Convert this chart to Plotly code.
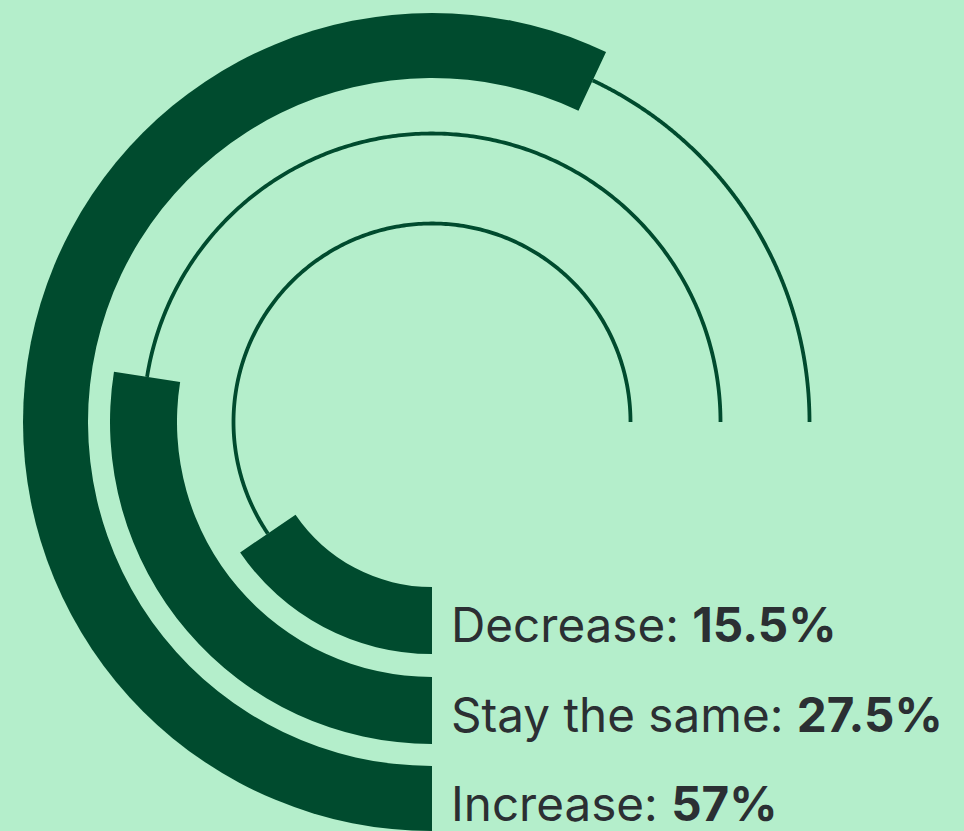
import numpy as np
import plotly.graph_objects as go

# Survey answers, innermost ring first
categories = ["Decrease", "Stay the same", "Increase"]
values = [15.5, 27.5, 57.0]          # percent
value_labels = ["15.5%", "27.5%", "57%"]

GREEN = "#004b2e"
BG = "#b4eecb"
TEXT = "#2b2f33"

W, H = 964, 831
CX, CY = 432, 422          # centre of the rings in pixels (from top-left)
R_MAX = 409                # radial axis range -> 1 unit == 1 px
ring_centres = [198.5, 288.5, 377.5]
BAR_THICK = 67
TRACK_END = 270            # tracks run three quarters of the way round
DEG_PER_PCT = 3.6

fig = go.Figure()

# thin tracks, continuing from the end of each bar up to 3 o'clock
for v, rc in zip(values, ring_centres):
    start = v * DEG_PER_PCT
    th = np.linspace(start, TRACK_END, 300)
    fig.add_trace(go.Scatterpolar(
        r=np.full_like(th, rc), theta=th, mode="lines",
        line=dict(color=GREEN, width=3.8), hoverinfo="skip", showlegend=False,
    ))

# thick value bars starting at 6 o'clock and running clockwise
for cat, v, rc in zip(categories, values, ring_centres):
    span = v * DEG_PER_PCT
    fig.add_trace(go.Barpolar(
        r=[BAR_THICK], base=[rc - BAR_THICK / 2], theta=[span / 2], width=[span],
        marker=dict(color=GREEN, line=dict(width=0)), name=cat, showlegend=False,
    ))

# labels next to the bar starts
for cat, lab, rc in zip(categories, value_labels, ring_centres):
    y_px = CY + rc + 4
    fig.add_annotation(
        x=449 / W, y=1 - y_px / H, xref="paper", yref="paper",
        xanchor="left", yanchor="middle", showarrow=False,
        text=f"{cat}: <b>{lab}</b>",
        font=dict(family="Inter", size=47.6, color=TEXT),
    )

fig.update_layout(
    width=W, height=H,
    margin=dict(l=0, r=0, t=0, b=0),
    paper_bgcolor=BG, plot_bgcolor=BG,
    barmode="overlay",
    polar=dict(
        domain=dict(x=[(CX - R_MAX) / W, (CX + R_MAX) / W],
                    y=[(H - CY - R_MAX) / H, (H - CY + R_MAX) / H]),
        bgcolor="rgba(0,0,0,0)",
        hole=0,
        radialaxis=dict(range=[0, R_MAX], visible=False, showgrid=False),
        angularaxis=dict(rotation=-90, direction="clockwise", visible=False,
                         showgrid=False),
    ),
)

fig.write_html("out.html")
